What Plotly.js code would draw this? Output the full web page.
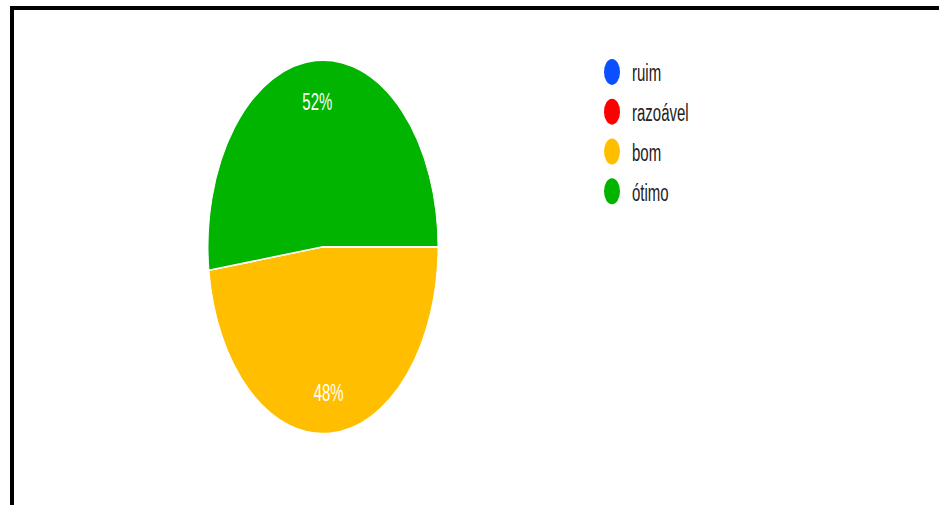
<!DOCTYPE html>
<html>
<head>
<meta charset="utf-8">
<script src="https://cdn.plot.ly/plotly-3.0.1.min.js"></script>
<style>
  html, body { margin: 0; padding: 0; background: #ffffff; width: 939px; height: 505px; overflow: hidden; }
  #frame { position: absolute; left: 10px; top: 6px; width: 929px; height: 499px; border-top: 4px solid #000; border-left: 4px solid #000; box-sizing: border-box; }
  #chart { position: absolute; left: 0; top: 0; width: 939px; height: 311px; transform-origin: 0 0; transform: scaleY(1.6238); }
</style>
</head>
<body>
<div id="frame"></div>
<div id="chart"></div>
<script>
const labels = ['ruim', 'razoável', 'bom', 'ótimo'];
const values = [0, 0, 48, 52];
const colors = ['#0a50ff', '#ff0000', '#ffbf00', '#00b400'];

const FONT = 'Liberation Sans, Arial, sans-serif';
const PIE_DOMAIN = { x: [208 / 939, 438 / 939], y: [0, 1] };

// filled pie (slices only)
const pie = {
  type: 'pie',
  labels: labels,
  values: values,
  sort: false,
  direction: 'clockwise',
  rotation: 90,
  marker: { colors: colors, line: { color: '#ffffff', width: 1 } },
  textinfo: 'none',
  showlegend: false,
  domain: PIE_DOMAIN,
  hoverinfo: 'label+percent'
};

// transparent ring carrying the percentage labels near the rim
const labelRing = {
  type: 'pie',
  labels: labels,
  values: values,
  sort: false,
  direction: 'clockwise',
  rotation: 90,
  hole: 0.56,
  marker: { colors: labels.map(() => 'rgba(0,0,0,0)'), line: { width: 0 } },
  textinfo: 'percent',
  textposition: 'inside',
  insidetextorientation: 'horizontal',
  textfont: { color: '#ffffff', size: 15, family: FONT },
  showlegend: false,
  domain: PIE_DOMAIN,
  hoverinfo: 'skip'
};

const legendTraces = labels.map((lab, i) => ({
  type: 'scatter',
  mode: 'markers',
  x: [null],
  y: [null],
  name: lab,
  legendgroup: 'g' + i,
  marker: { color: colors[i], size: 16, symbol: 'circle' },
  showlegend: true,
  hoverinfo: 'skip'
}));

const layout = {
  width: 939,
  height: 311,
  margin: { l: 0, r: 0, t: 37, b: 44 },
  paper_bgcolor: 'rgba(0,0,0,0)',
  plot_bgcolor: 'rgba(0,0,0,0)',
  font: { family: FONT, size: 15, color: '#222222' },
  xaxis: { visible: false },
  yaxis: { visible: false },
  showlegend: true,
  legend: {
    x: 592 / 939,
    xanchor: 'left',
    y: 1.039,
    yanchor: 'top',
    traceorder: 'grouped',
    tracegroupgap: 2,
    font: { family: FONT, size: 15, color: '#222222' },
    bgcolor: 'rgba(0,0,0,0)',
    itemclick: false,
    itemdoubleclick: false
  }
};

Plotly.newPlot('chart', [pie, labelRing].concat(legendTraces), layout, { displayModeBar: false, staticPlot: true });
</script>
</body>
</html>
